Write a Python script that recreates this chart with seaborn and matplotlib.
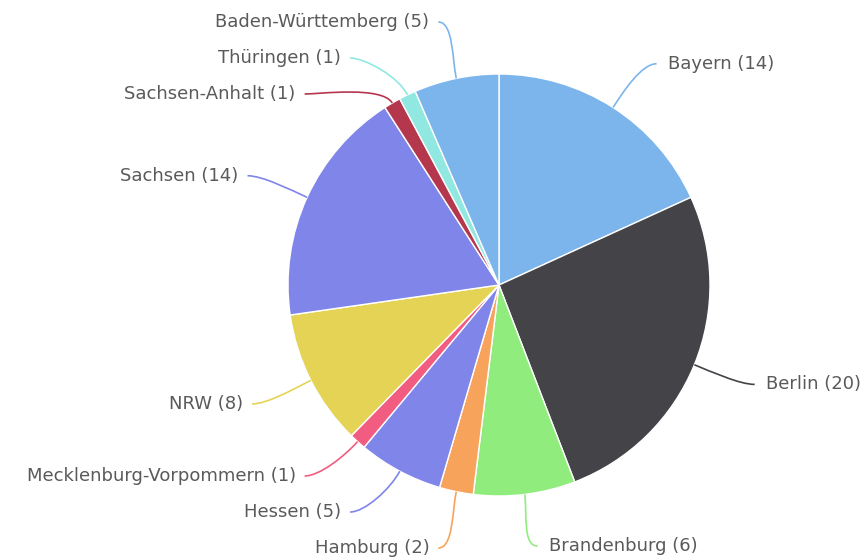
import matplotlib

matplotlib.use("Agg")
import matplotlib.pyplot as plt
import numpy as np
import seaborn as sns
from matplotlib.patches import PathPatch
from matplotlib.path import Path

states = [
    "Bayern",
    "Berlin",
    "Brandenburg",
    "Hamburg",
    "Hessen",
    "Mecklenburg-Vorpommern",
    "NRW",
    "Sachsen",
    "Sachsen-Anhalt",
    "Thüringen",
    "Baden-Württemberg",
]
counts = [14, 20, 6, 2, 5, 1, 8, 14, 1, 1, 5]
colors = [
    "#7cb5ec",
    "#434348",
    "#90ed7d",
    "#f7a35c",
    "#8085e9",
    "#f15c80",
    "#e4d354",
    "#8085e9",
    "#b5374e",
    "#91e8e1",
    "#7cb5ec",
]

# layout in pixels, y measured downward
W, H = 868, 559
CX, CY = 499, 285
RADIUS = 211
LABEL_RY = 263
LABEL_RX = 275
GAP = 36
Y_MIN, Y_MAX = 22, 548
TEXT_COLOR = "#5a5a5a"


def spread(ideal, idx, gap, lo, hi):
    # pack labels into groups that sit as close as possible to their ideal y
    groups = [[i] for i in sorted(idx, key=lambda i: ideal[i])]

    def start_of(g):
        offs = np.arange(len(g)) * gap
        s = np.mean(ideal[g] - offs)
        return min(max(s, lo), hi - offs[-1])

    changed = True
    while changed:
        changed = False
        starts = [start_of(g) for g in groups]
        for k in range(len(groups) - 1):
            end_k = starts[k] + (len(groups[k]) - 1) * gap
            if starts[k + 1] - end_k < gap:
                groups[k] = groups[k] + groups[k + 1]
                del groups[k + 1]
                changed = True
                break
    out = {}
    for g in groups:
        s = start_of(g)
        for n, i in enumerate(g):
            out[i] = s + n * gap
    return out


sns.set_theme(style="white")
fig = plt.figure(figsize=(W / 100, H / 100), dpi=100)
ax = fig.add_axes([0, 0, 1, 1])

ax.pie(
    counts,
    colors=colors,
    startangle=90,
    counterclock=False,
    center=(CX, H - CY),
    radius=RADIUS,
    wedgeprops=dict(edgecolor="white", linewidth=1),
)
ax.set_xlim(0, W)
ax.set_ylim(0, H)
ax.set_aspect("equal")
ax.axis("off")

counts_arr = np.array(counts, dtype=float)
total = counts_arr.sum()
mids = np.radians((np.cumsum(counts_arr) - counts_arr / 2) / total * 360)
ideal_y = CY - LABEL_RY * np.cos(mids)
is_right = np.sin(mids) >= 0

label_y = {}
for side in (True, False):
    idx = [i for i in range(len(states)) if is_right[i] == side]
    label_y.update(spread(ideal_y, idx, GAP, Y_MIN, Y_MAX))

for i, name in enumerate(states):
    sign = 1 if is_right[i] else -1
    theta = mids[i]
    ly = label_y[i]
    ratio = abs(ly - CY) / 270
    if ratio > 0.95:
        lx = CX + LABEL_RX * np.sin(theta) + sign * 5
    else:
        lx = CX + sign * LABEL_RX * np.sqrt(1 - ratio**2)

    x0 = CX + RADIUS * np.sin(theta)
    y0 = CY - RADIUS * np.cos(theta)
    x1 = x0 + 20 * np.sin(theta)
    y1 = y0 - 20 * np.cos(theta)
    x2 = lx - sign * 15
    pts = [(x0, H - y0), (x1, H - y1), (x2, H - ly), (lx, H - ly)]
    path = Path(pts, [Path.MOVETO, Path.CURVE4, Path.CURVE4, Path.CURVE4])
    ax.add_patch(PathPatch(path, facecolor="none", edgecolor=colors[i], lw=1.2))

    ax.text(
        lx + sign * (11 if is_right[i] else 9),
        H - ly,
        f"{name} ({counts[i]})",
        ha="left" if is_right[i] else "right",
        va="center",
        fontsize=13,
        color=TEXT_COLOR,
        family="DejaVu Sans",
    )

fig.savefig("out.png", dpi=100)
